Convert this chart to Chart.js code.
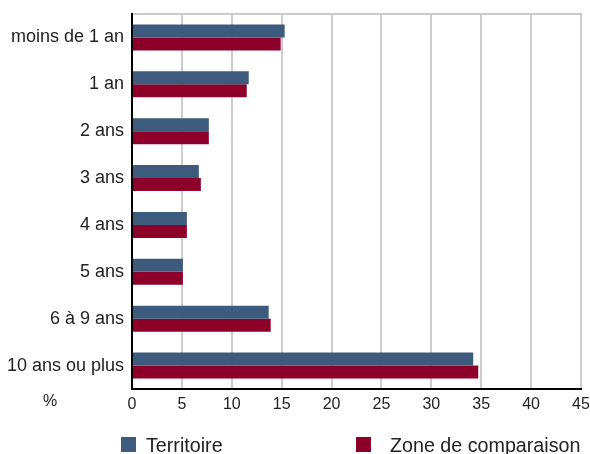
<!DOCTYPE html>
<html lang="fr">
<head>
<meta charset="utf-8">
<title>Ancienneté d'emménagement</title>
<script src="https://cdn.jsdelivr.net/npm/chart.js@4/dist/chart.umd.min.js"></script>
<style>
  html, body { margin: 0; padding: 0; background: #fff; }
  #wrap { position: relative; width: 590px; height: 454px; font-family: "Liberation Sans", Arial, sans-serif; }
  #chart { position: absolute; left: 0; top: 0; }
  #legend { position: absolute; left: 0; top: 0; width: 590px; height: 454px; pointer-events: none; }
  .lg-item { position: absolute; top: 434px; height: 20px; line-height: 20px; font-size: 19.7px; color: #222; white-space: nowrap; }
  .lg-box { position: absolute; top: 3px; left: 0; width: 15px; height: 15px; }
  .lg-text { position: absolute; top: 1px; }
</style>
</head>
<body>
<div id="wrap">
  <canvas id="chart" width="590" height="420"></canvas>
  <div id="legend"></div>
</div>
<script>
// Ancienneté d'emménagement des ménages (%)
const categories = ["moins de 1 an", "1 an", "2 ans", "3 ans", "4 ans", "5 ans", "6 à 9 ans", "10 ans ou plus"];
const territoire = [15.3, 11.7, 7.7, 6.7, 5.5, 5.1, 13.7, 34.2];
const zoneComparaison = [14.9, 11.5, 7.7, 6.9, 5.5, 5.1, 13.9, 34.7];
const seriesNames = ["Territoire", "Zone de comparaison"];
const axisMin = 0;
const axisMax = 45;
const axisStep = 5;
const unitLabel = "%";

const BLUE = "#3d5b7c";
const RED = "#8c0029";
const TEXT = "#222222";
const FONT = "'Liberation Sans', Arial, sans-serif";

// Legend items: horizontal placement of each entry (box left, text left)
const legendSlots = [
  { box: 121, text: 146 },
  { box: 356, text: 390 }
];

const htmlLegend = {
  id: "htmlLegend",
  afterUpdate(chart) {
    const host = document.getElementById("legend");
    host.innerHTML = "";
    const items = chart.options.plugins.legend.labels.generateLabels(chart);
    items.forEach((item, i) => {
      const slot = legendSlots[i];
      const el = document.createElement("div");
      el.className = "lg-item";
      el.style.left = slot.box + "px";
      const box = document.createElement("span");
      box.className = "lg-box";
      box.style.background = item.fillStyle;
      const txt = document.createElement("span");
      txt.className = "lg-text";
      txt.style.left = (slot.text - slot.box) + "px";
      txt.textContent = item.text;
      el.appendChild(box);
      el.appendChild(txt);
      host.appendChild(el);
    });
  }
};

// Unit label placed on the tick-label row, left of the plot
const unitMark = {
  id: "unitMark",
  afterDraw(chart) {
    const { ctx, chartArea } = chart;
    ctx.save();
    ctx.font = "16px " + FONT;
    ctx.fillStyle = TEXT;
    ctx.textAlign = "center";
    ctx.textBaseline = "top";
    ctx.fillText(unitLabel, chartArea.left - 82, chartArea.bottom + 5);
    ctx.restore();
  }
};

new Chart(document.getElementById("chart"), {
  type: "bar",
  data: {
    labels: categories,
    datasets: [
      { label: seriesNames[0], data: territoire, backgroundColor: BLUE, xAxisID: "x", yAxisID: "y" },
      { label: seriesNames[1], data: zoneComparaison, backgroundColor: RED, xAxisID: "x", yAxisID: "y" }
    ]
  },
  options: {
    indexAxis: "y",
    responsive: false,
    animation: false,
    devicePixelRatio: 1,
    layout: { padding: { top: 14, right: 9, left: 0, bottom: 0 } },
    datasets: { bar: { categoryPercentage: 0.555, barPercentage: 1.0, borderWidth: 0 } },
    scales: {
      x: {
        type: "linear",
        position: "bottom",
        min: axisMin,
        max: axisMax,
        afterFit(scale) { scale.height = 31; scale.paddingRight = 0; scale.paddingLeft = 0; },
        ticks: { stepSize: axisStep, color: TEXT, font: { family: FONT, size: 16 }, padding: 6 },
        grid: {
          color: ctx => (ctx.tick && ctx.tick.value === axisMin ? "rgba(0,0,0,0)" : "#cccccc"),
          lineWidth: 2,
          drawTicks: false
        },
        border: { color: "#000000", width: 2 }
      },
      xTop: {
        type: "linear",
        position: "top",
        min: axisMin,
        max: axisMax,
        afterFit(scale) { scale.height = 0; scale.paddingRight = 0; scale.paddingLeft = 0; },
        ticks: { display: false },
        grid: { display: false, drawTicks: false },
        border: { color: "#cccccc", width: 2 }
      },
      y: {
        type: "category",
        afterFit(scale) { scale.width = 132; scale.paddingTop = 0; scale.paddingBottom = 0; },
        ticks: { color: TEXT, font: { family: FONT, size: 18 }, padding: 8 },
        grid: { display: false, drawTicks: false },
        border: { color: "#000000", width: 2 }
      }
    },
    plugins: {
      legend: { display: false },
      tooltip: { enabled: false }
    }
  },
  plugins: [htmlLegend, unitMark]
});
</script>
</body>
</html>
